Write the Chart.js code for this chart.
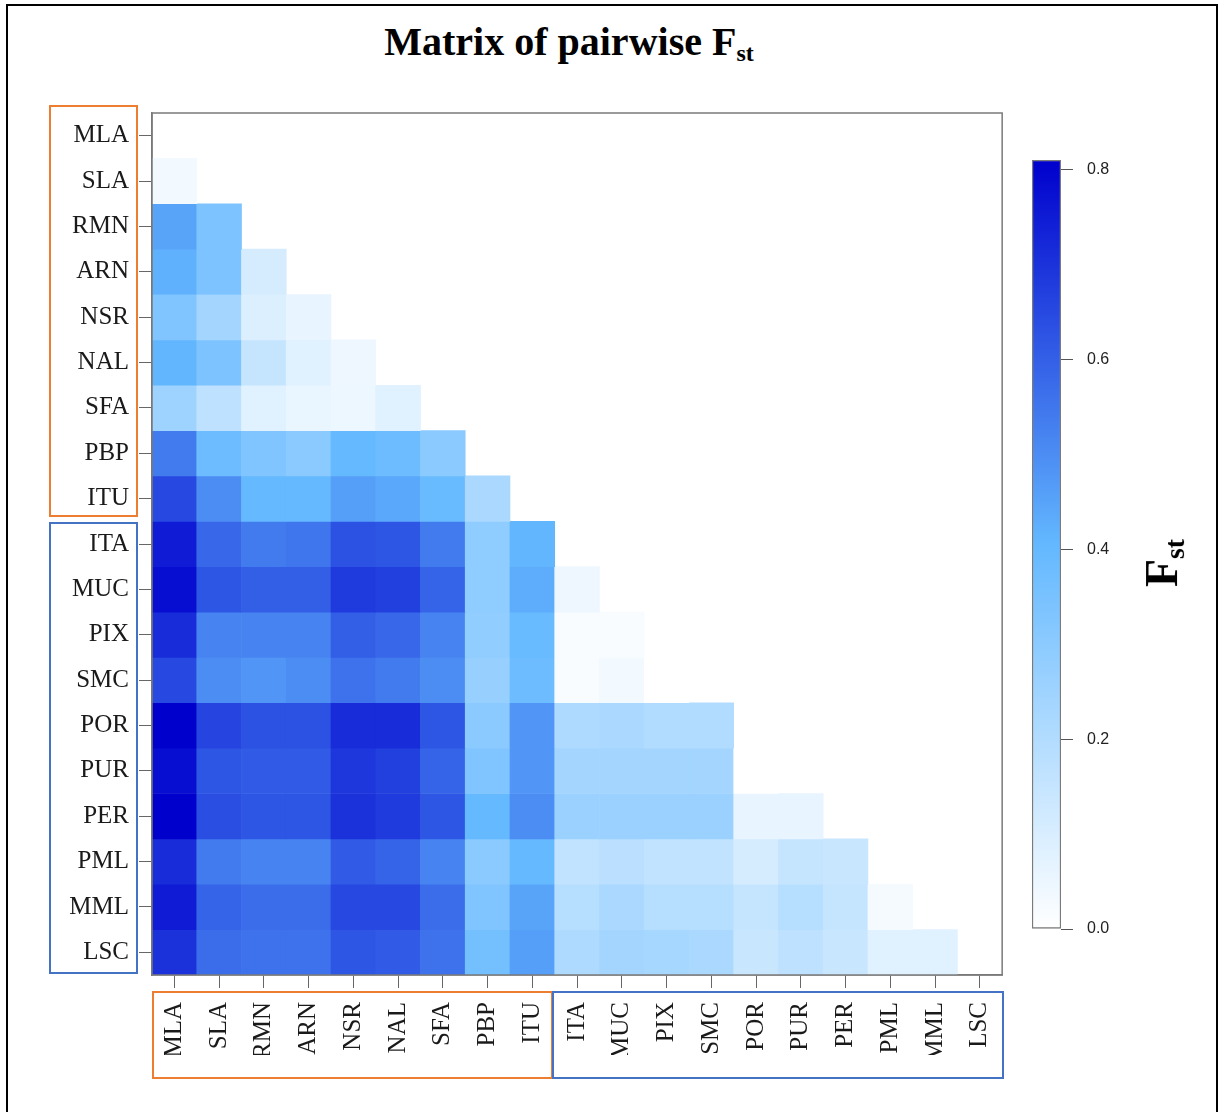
<!DOCTYPE html>
<html lang="en">
<head>
<meta charset="UTF-8" />
<title>Matrix of pairwise Fst</title>
<script src="https://cdn.jsdelivr.net/npm/chart.js"></script>
<style>
  body {
    margin: 0;
    width: 1219px;
    height: 1112px;
    overflow: hidden;
    position: relative;
    background: #fff;
    font-family: 'Liberation Serif', 'Times New Roman', serif;
  }
  .frame {
    position: absolute;
    left: 6px; top: 4px;
    width: 1212px; height: 1200px;
    border: 2px solid #000;
    box-sizing: border-box;
  }
  .title {
    position: absolute;
    left: 0; top: 20px;
    width: 1138px;
    text-align: center;
    font-weight: bold;
    font-size: 40px;
    line-height: 44px;
    color: #000;
  }
  .title sub, .fst sub { font-size: 60%; vertical-align: -0.25em; }
  .fst {
    position: absolute;
    left: 1163px; top: 563px;
    transform: translate(-50%, -50%) rotate(-90deg);
    font-weight: bold;
    font-size: 46px;
    white-space: nowrap;
    color: #000;
  }
  .box { position: absolute; border: 2px solid; box-sizing: border-box; }
  .orange { border-color: #ed7d31; }
  .blue { border-color: #4472c4; }
  #heat { position: absolute; left: 0; top: 0; }
  #bar { position: absolute; left: 1010px; top: 0; }
</style>
</head>
<body>
  <div class="frame"></div>
  <div class="title">Matrix of pairwise F<sub>st</sub></div>

  <div class="box orange" style="left:49px; top:105px; width:89px; height:412px;"></div>
  <div class="box blue" style="left:49px; top:522px; width:89px; height:452px;"></div>
  <div class="box orange" style="left:152px; top:991px; width:401px; height:88px;"></div>
  <div class="box blue" style="left:552px; top:991px; width:452px; height:88px;"></div>

  <canvas id="heat" width="1024" height="1112"></canvas>
  <canvas id="bar" width="209" height="1112"></canvas>
  <div class="fst">F<sub>st</sub></div>

<script>
  const populations = ['MLA', 'SLA', 'RMN', 'ARN', 'NSR', 'NAL', 'SFA', 'PBP', 'ITU', 'ITA',
                       'MUC', 'PIX', 'SMC', 'POR', 'PUR', 'PER', 'PML', 'MML', 'LSC'];

  // lower triangle, row i holds Fst against populations 0..i-1
  const fst = [
    [],
    [0.03],
    [0.45, 0.34],
    [0.42, 0.34, 0.11],
    [0.33, 0.24, 0.09, 0.06],
    [0.41, 0.34, 0.15, 0.08, 0.045],
    [0.25, 0.17, 0.08, 0.056, 0.046, 0.08],
    [0.54, 0.38, 0.33, 0.30, 0.40, 0.38, 0.30],
    [0.65, 0.50, 0.40, 0.40, 0.46, 0.44, 0.39, 0.22],
    [0.75, 0.58, 0.54, 0.55, 0.63, 0.62, 0.54, 0.29, 0.41],
    [0.78, 0.62, 0.60, 0.60, 0.68, 0.67, 0.59, 0.29, 0.43, 0.045],
    [0.71, 0.52, 0.52, 0.52, 0.60, 0.58, 0.52, 0.285, 0.39, 0.018, 0.018],
    [0.65, 0.50, 0.48, 0.50, 0.56, 0.54, 0.50, 0.27, 0.38, 0.015, 0.033, 0],
    [0.81, 0.66, 0.63, 0.63, 0.71, 0.71, 0.62, 0.30, 0.48, 0.21, 0.22, 0.20, 0.20],
    [0.78, 0.62, 0.61, 0.61, 0.69, 0.67, 0.59, 0.33, 0.48, 0.24, 0.24, 0.24, 0.24, 0],
    [0.81, 0.64, 0.62, 0.62, 0.70, 0.68, 0.62, 0.40, 0.50, 0.26, 0.26, 0.26, 0.26, 0.06, 0.06],
    [0.71, 0.54, 0.52, 0.52, 0.61, 0.59, 0.52, 0.30, 0.40, 0.16, 0.18, 0.16, 0.16, 0.11, 0.15, 0.14],
    [0.75, 0.59, 0.57, 0.57, 0.65, 0.65, 0.57, 0.33, 0.45, 0.19, 0.22, 0.19, 0.19, 0.15, 0.19, 0.15, 0.026],
    [0.70, 0.57, 0.56, 0.56, 0.62, 0.61, 0.56, 0.36, 0.46, 0.21, 0.24, 0.23, 0.22, 0.14, 0.17, 0.14, 0.08, 0.08]
  ];

  const colorMax = 0.81;
  const colorTicks = [0, 0.2, 0.4, 0.6, 0.8];
  const ramp = [[255, 255, 255], [99, 184, 255], [0, 0, 205]];   // white -> steelblue1 -> blue3

  function cellColor(v) {
    const t = Math.max(0, Math.min(1, (v || 0) / colorMax)) * 2;
    const k = Math.min(1, Math.floor(t));
    const f = t - k;
    const a = ramp[k], b = ramp[k + 1];
    const c = a.map((x, n) => Math.round(x + (b[n] - x) * f));
    return `rgb(${c[0]},${c[1]},${c[2]})`;
  }

  const serif = "'Liberation Serif', 'Times New Roman', serif";

  const frameBox = {
    id: 'frameBox',
    afterDraw(chart) {
      const { ctx, chartArea: a } = chart;
      ctx.save();
      ctx.strokeStyle = '#7a7a7a';
      ctx.lineWidth = 1.5;
      ctx.strokeRect(a.left, a.top, a.right - a.left, a.bottom - a.top);
      ctx.restore();
    }
  };

  const datasets = populations.map((row, i) => ({
    label: row,
    data: populations.map((col, j) => j < i ? [i - 0.5, i + 0.5] : null),
    backgroundColor: populations.map((col, j) => j < i ? cellColor(fst[i][j]) : 'rgba(0,0,0,0)'),
    grouped: false,
    barPercentage: 1,
    categoryPercentage: 1,
    borderWidth: 0
  }));

  new Chart(document.getElementById('heat'), {
    type: 'bar',
    data: { labels: populations, datasets: datasets },
    options: {
      responsive: false,
      animation: false,
      layout: { padding: { left: 52, right: 8, top: 113, bottom: 57 } },
      plugins: { legend: { display: false }, tooltip: { enabled: false } },
      scales: {
        x: {
          offset: true,
          grid: { drawOnChartArea: false, offset: false, tickLength: 13, color: '#666' },
          border: { color: '#7a7a7a', width: 1.5 },
          ticks: {
            autoSkip: false, minRotation: 90, maxRotation: 90, padding: 14,
            color: '#1a1a1a', font: { family: serif, size: 25 }
          },
          afterFit: s => { s.height = 80; }
        },
        y: {
          type: 'linear',
          reverse: true,
          min: -0.5,
          max: 18.5,
          afterBuildTicks: axis => { axis.ticks = populations.map((p, i) => ({ value: i })); },
          grid: { drawOnChartArea: false, tickLength: 13, color: '#666' },
          border: { color: '#7a7a7a', width: 1.5 },
          ticks: {
            autoSkip: false, padding: 10, color: '#1a1a1a',
            font: { family: serif, size: 25 },
            callback: v => populations[v]
          },
          afterFit: s => { s.width = 100; }
        }
      }
    },
    plugins: [frameBox]
  });

  // colour key
  new Chart(document.getElementById('bar'), {
    type: 'bar',
    data: {
      labels: [''],
      datasets: [{
        data: [[0, colorMax]],
        barPercentage: 1,
        categoryPercentage: 1,
        borderColor: '#7a7a7a',
        borderWidth: 1.5,
        borderSkipped: false,
        backgroundColor: ctx => {
          const chart = ctx.chart;
          if (!chart.chartArea) return '#fff';
          const y = chart.scales.y;
          const g = chart.ctx.createLinearGradient(0, y.getPixelForValue(0), 0, y.getPixelForValue(colorMax));
          ramp.forEach((c, n) => g.addColorStop(n / 2, `rgb(${c[0]},${c[1]},${c[2]})`));
          return g;
        }
      }]
    },
    options: {
      responsive: false,
      animation: false,
      layout: { padding: { left: 22, right: 58, top: 160, bottom: 183 } },
      plugins: { legend: { display: false }, tooltip: { enabled: false } },
      scales: {
        x: { display: false, offset: true },
        y: {
          position: 'right',
          min: 0,
          max: colorMax,
          afterBuildTicks: axis => { axis.ticks = colorTicks.map(v => ({ value: v })); },
          grid: { drawOnChartArea: false, tickLength: 12, color: '#555' },
          border: { display: false },
          ticks: {
            padding: 14, color: '#222',
            font: { family: "'Liberation Sans', Arial, sans-serif", size: 16 },
            callback: v => v.toFixed(1)
          },
          afterFit: s => { s.width = 100; }
        }
      }
    }
  });
</script>
</body>
</html>
